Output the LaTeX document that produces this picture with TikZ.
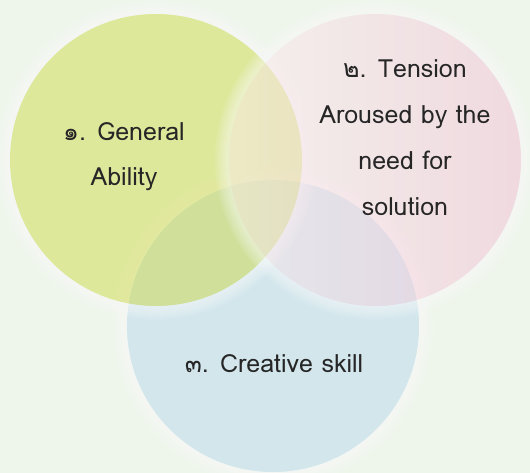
\documentclass[tikz,border=0pt]{standalone}
\usepackage{fontspec}
\newfontfamily\thaifont[Script=Thai]{Loma}
\usepackage{tikz}
\definecolor{bgc}{RGB}{238,246,236}
\definecolor{grn}{RGB}{208,220,76}
\definecolor{blu}{RGB}{184,216,236}
\definecolor{pnkl}{RGB}{250,236,238}
\definecolor{pnkr}{RGB}{242,190,212}

\begin{document}
\begin{tikzpicture}[x=1pt,y=-1pt,
  circ/.style={circle, minimum size=292pt, inner sep=0pt, fill opacity=0.5},
  glow/.style={white, draw opacity=0.09},
  lbl/.style={font=\thaifont\fontsize{25}{46}\selectfont, align=center, anchor=base, text=black!85}]
\fill [bgc] (0,0) rectangle (530,473);
\useasboundingbox (0,0) rectangle (530,473);

% glow and fill, blue first
\foreach \w in {2,4,...,14} \draw [glow, line width=\w pt] (273,326) circle [radius=146+\w/2];
\node (c) at (273,326) [circ, fill=blu] {};
\foreach \w in {2,4,...,14} \draw [glow, line width=\w pt] (156,160) circle [radius=146+\w/2];
\node (a) at (156,160) [circ, fill=grn] {};
\foreach \w in {2,4,...,14} \draw [glow, line width=\w pt] (375,160) circle [radius=146+\w/2];
\node (b) at (375,160) [circ, left color=pnkl, right color=pnkr] {};

\node (ta) at (124,186) [lbl] {๑. General\\Ability};
\node (tb) at (405,215) [lbl] {๒. Tension\\Aroused by the\\need for\\solution};
\node (tc) at (274,372) [lbl] {๓. Creative skill};
\end{tikzpicture}
\end{document}
